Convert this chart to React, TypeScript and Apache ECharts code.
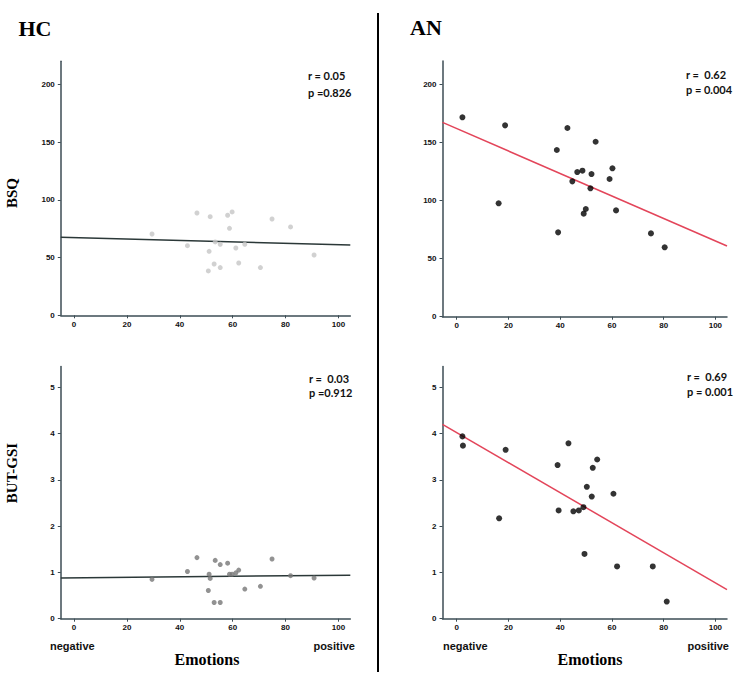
import React, { useEffect, useRef } from "react";
import * as echarts from "echarts";

// ---------- data ----------
const xTicks = [0, 20, 40, 60, 80, 100];
const bsqTicks = [0, 50, 100, 150, 200];
const gsiTicks = [0, 1, 2, 3, 4, 5];

// Healthy controls (HC)
const hcEmotions = [29.5, 42.9, 46.5, 51.5, 51.1, 50.8, 53.0, 53.4, 55.3, 55.3, 58.1, 59.8, 58.8, 61.2, 62.3, 64.6, 70.5, 74.9, 81.9, 90.8];
const hcBsq = [70.4, 60.3, 88.6, 85.4, 55.4, 38.4, 44.4, 63.5, 61.5, 41.3, 86.6, 89.5, 75.3, 58.3, 45.3, 61.5, 41.3, 83.4, 76.5, 52.2];
const hcButGsi = [0.85, 1.02, 1.32, 0.87, 0.96, 0.61, 0.35, 1.26, 1.17, 0.35, 1.2, 0.96, 0.96, 0.99, 1.05, 0.64, 0.7, 1.29, 0.93, 0.88];

// Anorexia nervosa (AN)
const anEmotionsBsq = [2.2, 16.2, 18.7, 38.7, 39.2, 42.8, 44.7, 46.6, 48.6, 49.1, 49.9, 51.7, 52.1, 53.7, 59.1, 60.2, 61.6, 75.1, 80.4];
const anBsq = [171.6, 97.6, 164.7, 143.5, 72.6, 162.4, 116.5, 124.5, 125.7, 88.7, 92.7, 110.5, 122.8, 150.6, 118.5, 127.7, 91.5, 71.7, 59.7];
const anEmotionsGsi = [2.2, 2.4, 16.4, 18.9, 39.0, 39.4, 43.2, 45.1, 47.2, 49.0, 49.4, 50.3, 52.2, 52.6, 54.3, 60.6, 62.0, 75.8, 81.2];
const anButGsi = [3.94, 3.74, 2.17, 3.65, 3.32, 2.34, 3.79, 2.32, 2.34, 2.41, 1.4, 2.85, 2.64, 3.26, 3.44, 2.7, 1.13, 1.13, 0.37];

// Fit lines (end points)
const hcBsqFit = [[-5, 67.6], [104.5, 60.9]];
const hcGsiFit = [[-5, 0.88], [104.5, 0.94]];
const anBsqFit = [[-5.5, 167.3], [104.5, 60.8]];
const anGsiFit = [[-5.5, 4.2], [104.5, 0.63]];

const stats = [
  ["r = 0.05", "p =0.826"],
  ["r =  0.62", "p = 0.004"],
  ["r =  0.03", "p =0.912"],
  ["r =  0.69", "p = 0.001"],
];

const zip = (xs: number[], ys: number[]) => xs.map((x, i) => [x, ys[i]]);

export default function App() {
  const ref = useRef<HTMLDivElement>(null);

  useEffect(() => {
    if (!ref.current) return;
    const chart = echarts.init(ref.current, undefined, { renderer: "svg" });

    const axisColor = "#3d4d55";
    const tickFont = {
      fontSize: 8,
      fontWeight: "bold" as const,
      color: "#111",
      fontFamily: "'Liberation Sans Narrow', 'Liberation Sans', Arial, sans-serif",
    };

    const grids = [
      { left: 60.8, top: 61.2, width: 289.5, height: 254.1 },
      { left: 442.5, top: 61.1, width: 284.5, height: 255.6 },
      { left: 60.8, top: 366.5, width: 289.5, height: 252.2 },
      { left: 442.5, top: 366.5, width: 284.5, height: 252.2 },
    ];

    const xAxes = grids.map((_, i) => ({
      type: "value" as const,
      gridIndex: i,
      min: i % 2 === 0 ? -5 : -5.5,
      max: 104.5,
      splitLine: { show: false },
      axisLine: { show: true, onZero: false, lineStyle: { color: axisColor, width: 1.5 } },
      axisTick: { show: true, length: 3, customValues: xTicks, lineStyle: { color: axisColor } },
      axisLabel: { ...tickFont, margin: 5, customValues: xTicks },
    }));

    const yAxes = grids.map((_, i) => {
      const ticks = i < 2 ? bsqTicks : gsiTicks;
      return {
        type: "value" as const,
        gridIndex: i,
        min: 0,
        max: i < 2 ? 220 : 5.45,
        splitLine: { show: false },
        axisLine: { show: true, onZero: false, lineStyle: { color: axisColor, width: 1.5 } },
        axisTick: { show: true, length: 3, customValues: ticks, lineStyle: { color: axisColor } },
        axisLabel: { ...tickFont, margin: 6, customValues: ticks },
      };
    });

    const scatter = (i: number, data: number[][], color: string, size: number) => ({
      type: "scatter" as const,
      xAxisIndex: i,
      yAxisIndex: i,
      data,
      symbolSize: size,
      itemStyle: { color },
      z: 3,
    });
    const fit = (i: number, data: number[][], color: string) => ({
      type: "line" as const,
      xAxisIndex: i,
      yAxisIndex: i,
      data,
      showSymbol: false,
      symbol: "none",
      lineStyle: { color, width: 1.5 },
      z: 2,
    });

    const serifTitle = (text: string, x: number, y: number, size: number, rot = 0) => ({
      type: "text" as const,
      x,
      y,
      rotation: rot,
      style: {
        text,
        fontFamily: "'Liberation Serif', 'Times New Roman', serif",
        fontWeight: "bold",
        fontSize: size,
        fill: "#000",
        align: "center",
        verticalAlign: "middle",
      },
    });
    const sans = (text: string, x: number, y: number, size: number, align = "left") => ({
      type: "text" as const,
      x,
      y,
      style: {
        text,
        fontFamily: "Lato, 'Liberation Sans', sans-serif",
        fontWeight: "bold",
        fontSize: size,
        fill: "#111",
        align,
        verticalAlign: "middle",
      },
    });

    const statPos = [
      [308, 75, 92],
      [686, 74, 89.5],
      [309, 378, 392.5],
      [687, 376, 391.5],
    ];

    const graphic: any[] = [
      serifTitle("HC", 35, 28, 22),
      serifTitle("AN", 426, 27, 22),
      { type: "line", shape: { x1: 378, y1: 13, x2: 378, y2: 672 }, style: { stroke: "#000", lineWidth: 2 } },
      serifTitle("BSQ", 12, 193, 15, Math.PI / 2),
      serifTitle("BUT-GSI", 12, 473, 15, Math.PI / 2),
      serifTitle("Emotions", 207, 659, 16),
      serifTitle("Emotions", 590, 659, 16),
      {
        type: "text", x: 50, y: 646,
        style: { text: "negative", fontFamily: "'Liberation Sans', Arial, sans-serif", fontWeight: "bold", fontSize: 11, fill: "#111", align: "left", verticalAlign: "middle" },
      },
      {
        type: "text", x: 355, y: 646,
        style: { text: "positive", fontFamily: "'Liberation Sans', Arial, sans-serif", fontWeight: "bold", fontSize: 11, fill: "#111", align: "right", verticalAlign: "middle" },
      },
      {
        type: "text", x: 443, y: 646,
        style: { text: "negative", fontFamily: "'Liberation Sans', Arial, sans-serif", fontWeight: "bold", fontSize: 11, fill: "#111", align: "left", verticalAlign: "middle" },
      },
      {
        type: "text", x: 729, y: 646,
        style: { text: "positive", fontFamily: "'Liberation Sans', Arial, sans-serif", fontWeight: "bold", fontSize: 11, fill: "#111", align: "right", verticalAlign: "middle" },
      },
    ];
    stats.forEach((s, i) => {
      const [x, y1, y2] = statPos[i];
      graphic.push(sans(s[0], x, y1, 11));
      graphic.push(sans(s[1], x, y2, 11));
    });

    chart.setOption({
      animation: false,
      backgroundColor: "#fff",
      grid: grids.map((g) => ({ ...g, containLabel: false })),
      xAxis: xAxes,
      yAxis: yAxes,
      series: [
        fit(0, hcBsqFit, "#2b3838"),
        scatter(0, zip(hcEmotions, hcBsq), "#c6c6c6", 5),
        fit(1, anBsqFit, "#e3455a"),
        scatter(1, zip(anEmotionsBsq, anBsq), "#000", 6),
        fit(2, hcGsiFit, "#2b3838"),
        scatter(2, zip(hcEmotions, hcButGsi), "#777", 5),
        fit(3, anGsiFit, "#e3455a"),
        scatter(3, zip(anEmotionsGsi, anButGsi), "#000", 6),
      ],
      graphic,
    });

    return () => chart.dispose();
  }, []);

  return (
    <div
      ref={ref}
      style={{ position: "absolute", left: 0, top: 0, width: 737, height: 677, background: "#fff" }}
    />
  );
}
